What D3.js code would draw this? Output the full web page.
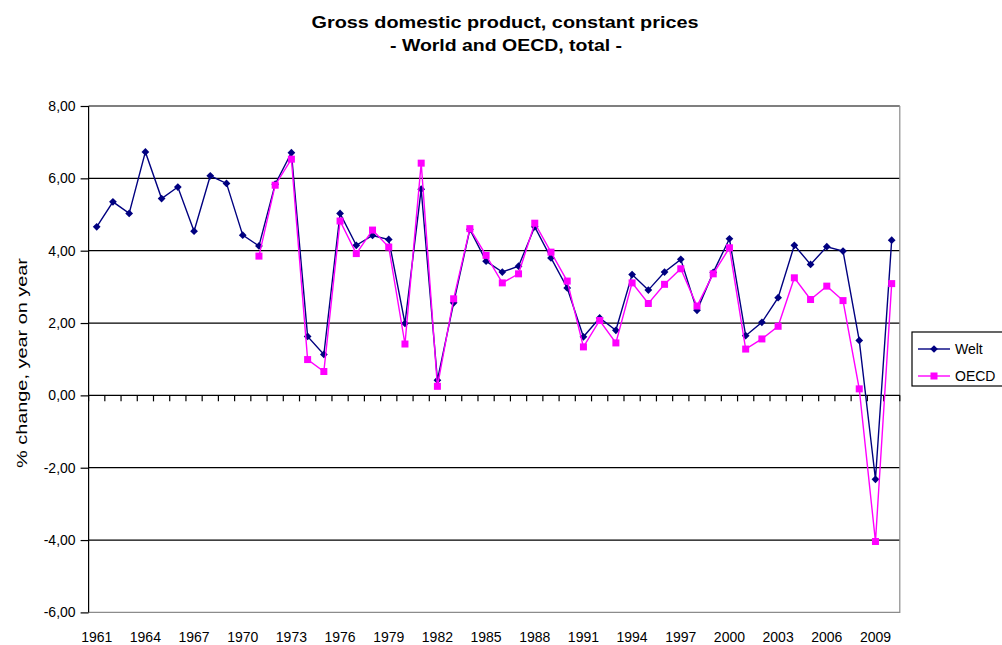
<!DOCTYPE html>
<html>
    <head>
        <meta charset="utf-8">
        <title>GDP World and OECD</title>
        <script src="https://d3js.org/d3.v7.min.js"></script>
        <style>
            body { margin: 0; background: #fff; }
            text { font-family: "Liberation Sans", Arial, sans-serif; fill: #000; }
        </style>
    </head>
    <body>
        <svg width="1002" height="645"></svg>
        <script>
            // data
            var years = d3.range(1961, 2011);
            var welt = [4.66, 5.35, 5.03, 6.73, 5.44, 5.76, 4.54, 6.07, 5.86, 4.43,
                        4.13, 5.84, 6.71, 1.63, 1.13, 5.03, 4.15, 4.42, 4.31, 1.99,
                        5.70, 0.42, 2.56, 4.59, 3.71, 3.41, 3.57, 4.66, 3.80, 2.97,
                        1.62, 2.14, 1.80, 3.34, 2.91, 3.41, 3.76, 2.35, 3.40, 4.33,
                        1.65, 2.02, 2.70, 4.15, 3.62, 4.11, 3.99, 1.52, -2.32, 4.29];
            var oecdYears = d3.range(1971, 2011);
            var oecd = [3.85, 5.81, 6.53, 0.99, 0.66, 4.82, 3.92, 4.57, 4.10, 1.42,
                        6.42, 0.25, 2.67, 4.61, 3.87, 3.11, 3.36, 4.76, 3.96, 3.16,
                        1.34, 2.07, 1.45, 3.11, 2.54, 3.07, 3.50, 2.47, 3.36, 4.08,
                        1.28, 1.56, 1.91, 3.25, 2.65, 3.02, 2.62, 0.18, -4.04, 3.09];
            var yTicks = [-6, -4, -2, 0, 2, 4, 6, 8];
            var xLabelYears = d3.range(1961, 2011, 3);

            var svg = d3.select("svg");
            var pLeft = 88.6, pRight = 899.8, pTop = 106, pBottom = 612.4;

            var x = d3.scaleBand().domain(years).range([pLeft, pRight]).padding(0);
            var y = d3.scaleLinear().domain([-6, 8]).range([pBottom, pTop]);
            var cx = function(yr) { return x(yr) + x.bandwidth() / 2; };
            // german style numbers: 8,00 and -6,00
            var locale = d3.formatLocale({decimal: ",", thousands: ".", grouping: [3], currency: ["", ""], minus: "-"});
            var fmt = locale.format(".2f");

            // title
            svg.append("text")
               .attr("x", 505).attr("y", 28)
               .attr("text-anchor", "middle")
               .attr("font-size", "17px").attr("font-weight", "bold")
               .attr("textLength", 387).attr("lengthAdjust", "spacingAndGlyphs")
               .text("Gross domestic product, constant prices");
            svg.append("text")
               .attr("x", 506).attr("y", 51)
               .attr("text-anchor", "middle")
               .attr("font-size", "17px").attr("font-weight", "bold")
               .attr("textLength", 232).attr("lengthAdjust", "spacingAndGlyphs")
               .text("- World and OECD, total -");

            // gridlines
            svg.append("g")
               .selectAll("line")
               .data(yTicks.filter(function(d) { return d !== 0 && d !== -6; }))
               .enter().append("line")
               .attr("x1", pLeft).attr("x2", pRight)
               .attr("y1", function(d) { return y(d); })
               .attr("y2", function(d) { return y(d); })
               .attr("stroke", "#000").attr("stroke-width", 1.2);

            // plot border right + bottom (gray)
            svg.append("path")
               .attr("d", "M" + pRight + "," + pTop + "V" + pBottom + "H" + pLeft)
               .attr("fill", "none").attr("stroke", "#8c8c8c").attr("stroke-width", 1.2);

            // y axis
            var yAxis = svg.append("g")
               .attr("transform", "translate(" + pLeft + ",0)")
               .call(d3.axisLeft(y).tickValues(yTicks).tickSize(8).tickPadding(5).tickFormat(fmt));
            yAxis.select(".domain").attr("stroke", "#000").attr("stroke-width", 1.2)
                 .attr("d", "M0," + pTop + "V" + pBottom);
            yAxis.selectAll(".tick line").attr("stroke", "#000").attr("stroke-width", 1.2);
            yAxis.selectAll("text").attr("font-size", "14px")
                 .attr("font-family", "Liberation Sans, Arial, sans-serif").attr("fill", "#333");

            // x axis line at 0 with tick marks between categories
            var bounds = years.map(function(d) { return x(d); }).concat([pRight]);
            svg.append("line")
               .attr("x1", pLeft).attr("x2", pRight)
               .attr("y1", y(0)).attr("y2", y(0))
               .attr("stroke", "#000").attr("stroke-width", 1.2);
            svg.append("g")
               .selectAll("line")
               .data(bounds)
               .enter().append("line")
               .attr("x1", function(d) { return d; }).attr("x2", function(d) { return d; })
               .attr("y1", y(0)).attr("y2", y(0) + 6)
               .attr("stroke", "#000").attr("stroke-width", 1.2);

            // x labels at the bottom
            svg.append("g")
               .selectAll("text")
               .data(xLabelYears)
               .enter().append("text")
               .attr("x", function(d) { return cx(d); })
               .attr("y", 642)
               .attr("text-anchor", "middle")
               .attr("font-size", "14px").attr("fill", "#333")
               .text(function(d) { return d; });

            // y label
            svg.append("text")
               .attr("transform", "translate(27,363) rotate(-90)")
               .attr("text-anchor", "middle")
               .attr("font-size", "14px").attr("fill", "#333")
               .attr("textLength", 210).attr("lengthAdjust", "spacingAndGlyphs")
               .text("% change, year on year");

            var line = d3.line()
               .x(function(d) { return cx(d.year); })
               .y(function(d) { return y(d.value); });

            var weltData = years.map(function(yr, i) { return {year: yr, value: welt[i]}; });
            var oecdData = oecdYears.map(function(yr, i) { return {year: yr, value: oecd[i]}; });

            var navy = "#000080", magenta = "#ff00ff";
            var diamond = d3.symbol().type(d3.symbolSquare).size(30);

            // Welt
            svg.append("path").datum(weltData)
               .attr("d", line).attr("fill", "none")
               .attr("stroke", navy).attr("stroke-width", 1.4);
            svg.append("g").selectAll("path")
               .data(weltData).enter().append("path")
               .attr("d", diamond)
               .attr("transform", function(d) { return "translate(" + cx(d.year) + "," + y(d.value) + ") rotate(45)"; })
               .attr("fill", navy);

            // OECD
            svg.append("path").datum(oecdData)
               .attr("d", line).attr("fill", "none")
               .attr("stroke", magenta).attr("stroke-width", 1.4);
            svg.append("g").selectAll("rect")
               .data(oecdData).enter().append("rect")
               .attr("x", function(d) { return cx(d.year) - 3.5; })
               .attr("y", function(d) { return y(d.value) - 3.5; })
               .attr("width", 7).attr("height", 7)
               .attr("fill", magenta);

            // legend
            var lg = svg.append("g");
            lg.append("rect")
              .attr("x", 912).attr("y", 332).attr("width", 100).attr("height", 54)
              .attr("fill", "#fff").attr("stroke", "#000").attr("stroke-width", 1.2);
            var legendNames = ["Welt", "OECD"];
            var legendColors = [navy, magenta];
            legendNames.forEach(function(name, i) {
                var ly = 349 + i * 27;
                lg.append("line").attr("x1", 918).attr("x2", 950)
                  .attr("y1", ly).attr("y2", ly)
                  .attr("stroke", legendColors[i]).attr("stroke-width", 1.4);
                if (i === 0) {
                    lg.append("path").attr("d", diamond)
                      .attr("transform", "translate(934," + ly + ") rotate(45)").attr("fill", navy);
                } else {
                    lg.append("rect").attr("x", 930.5).attr("y", ly - 3.5)
                      .attr("width", 7).attr("height", 7).attr("fill", magenta);
                }
                lg.append("text").attr("x", 955).attr("y", ly + 5)
                  .attr("font-size", "14px").attr("fill", "#333")
                  .text(name);
            });
        </script>
    </body>
</html>
